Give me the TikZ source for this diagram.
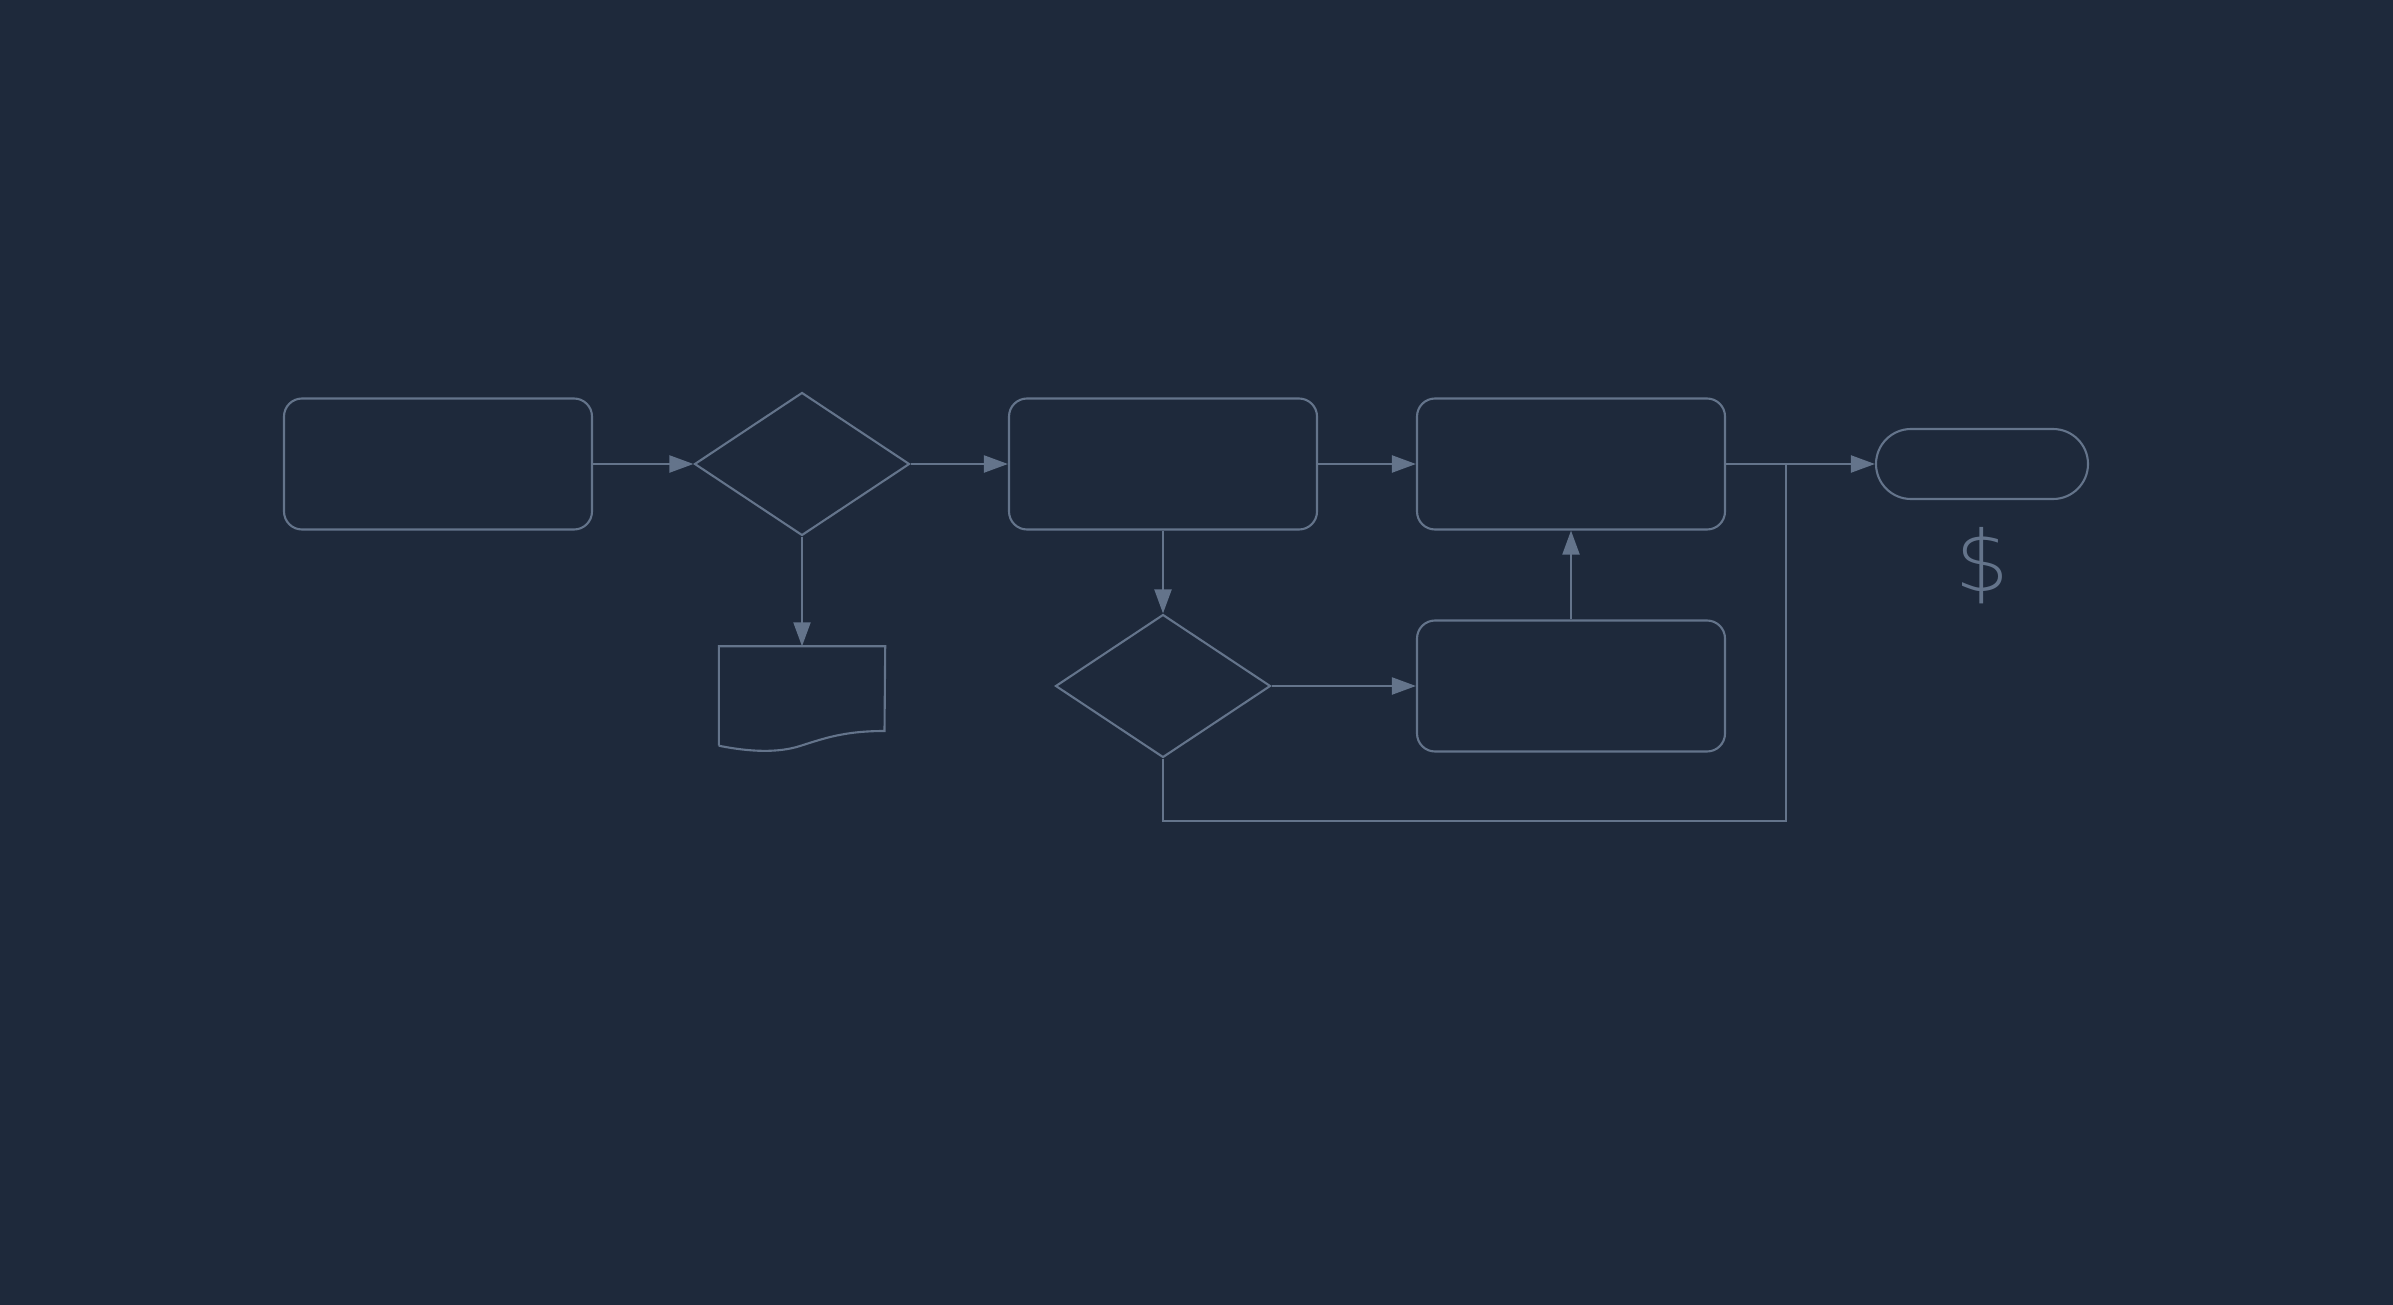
\documentclass[tikz,border=0pt]{standalone}
\usepackage{fontspec}
\newfontfamily\dollarfont{DejaVu Sans ExtraLight}
\usepackage{tikz}
\usetikzlibrary{arrows.meta,shapes.geometric}
\definecolor{bgnavy}{HTML}{1E293B}
\definecolor{slateline}{HTML}{64748B}

\begin{document}
\begin{tikzpicture}[
    procbox/.style={draw=slateline,line width=0.6pt,rounded corners=0.18cm,
      minimum width=3.08cm,minimum height=1.31cm,inner sep=0pt},
    decision/.style={draw=slateline,line width=0.6pt,diamond,
      minimum width=2.15cm,minimum height=1.43cm,inner sep=0pt},
    terminal/.style={draw=slateline,line width=0.6pt,rounded corners=0.35cm,
      minimum width=2.12cm,minimum height=0.70cm,inner sep=0pt},
    flow/.style={draw=slateline,line width=0.6pt,-{Triangle[length=2.4mm,width=1.7mm]}},
    wire/.style={draw=slateline,line width=0.6pt}
  ]
  % background
  \fill[bgnavy] (0,0) rectangle (23.93,-13.05);

  % process boxes
  \foreach \name/\x/\y in {box1/4.38/-4.64, box2/11.63/-4.64, box3/15.71/-4.64, box4/15.71/-6.86}
    \node[procbox] (\name) at (\x,\y) {};

  % decisions
  \node[decision] (dec1) at (8.02,-4.64) {};
  \node[decision] (dec2) at (11.63,-6.86) {};

  % end
  \node[terminal] (term) at (19.82,-4.64) {};
  \node[slateline,font=\dollarfont\fontsize{24}{28}\selectfont] (cost) at (19.82,-5.66) {\$};

  % document
  \node[minimum width=1.65cm,minimum height=0.98cm,inner sep=0pt] (doc) at (8.02,-6.96) {};
  \draw[wire] (doc.south west) -- (doc.north west) -- (doc.north east) -- (8.845,-7.31)
    .. controls (8.45,-7.31) and (8.25,-7.38) .. (8.0,-7.46)
    .. controls (7.78,-7.53) and (7.5,-7.52) .. (doc.south west);

  % main line
  \draw[flow] (box1.east) -- (dec1.west);
  \draw[flow] (dec1.east) -- (box2.west);
  \draw[flow] (box2.east) -- (box3.west);
  \draw[flow] (box3.east) -- (term.west);

  % branches
  \draw[flow] (dec1.south) -- (doc.north);
  \draw[flow] (box2.south) -- (dec2.north);
  \draw[flow] (dec2.east) -- (box4.west);
  \draw[flow] (box4.north) -- (box3.south);

  % loop back
  \coordinate (loopturn) at (17.86,-8.21);
  \coordinate (merge) at (17.86,-4.64);
  \draw[wire] (dec2.south) |- (loopturn) -- (merge);
\end{tikzpicture}
\end{document}
